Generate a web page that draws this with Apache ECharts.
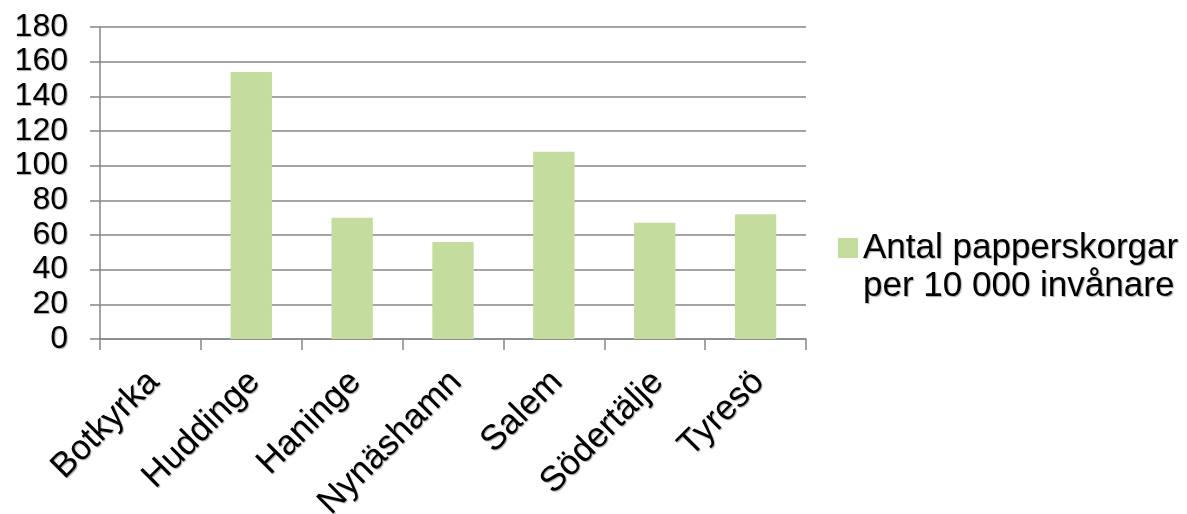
<!DOCTYPE html>
<html>
<head>
<meta charset="utf-8">
<script src="https://cdn.jsdelivr.net/npm/echarts@6/dist/echarts.min.js"></script>
<style>
html,body{margin:0;padding:0;background:#fff;}
#chart{width:1187px;height:514px;}
</style>
</head>
<body>
<div id="chart"></div>
<script>
const categories = ['Botkyrka', 'Huddinge', 'Haninge', 'Nynäshamn', 'Salem', 'Södertälje', 'Tyresö'];
const values = [null, 154, 70, 56, 108, 67, 72];
const seriesName = 'Antal papperskorgar\nper 10 000 invånare';
const yMin = 0, yMax = 180, yInterval = 20;

const FONT = '"Liberation Sans", Arial, sans-serif';
const shadow = { textShadowColor: 'rgba(0,0,0,0.35)', textShadowBlur: 1, textShadowOffsetX: 1, textShadowOffsetY: 1 };
const chart = echarts.init(document.getElementById('chart'));
chart.setOption({
  animation: false,
  backgroundColor: '#ffffff',
  grid: { left: 100, right: 381, top: 27, bottom: 175, containLabel: false, outerBoundsMode: 'none' },
  legend: {
    orient: 'vertical',
    left: 838,
    top: 229,
    padding: 0,
    itemWidth: 20,
    itemHeight: 58,
    itemGap: 0,
    icon: 'path://M0,0L20,0L20,20L0,20Z M0,58',
    data: [seriesName],
    textStyle: Object.assign({ fontFamily: FONT, fontSize: 35, color: '#000', lineHeight: 38 }, shadow)
  },
  xAxis: {
    type: 'category',
    data: categories,
    axisLine: { show: true, lineStyle: { color: '#868686', width: 1.5 } },
    axisTick: { show: true, length: 11, alignWithLabel: false, lineStyle: { color: '#868686', width: 1.5 } },
    axisLabel: Object.assign({ rotate: 45, interval: 0, margin: 16, align: 'right', verticalAlign: 'top', padding: [0, 13, 0, 0], fontFamily: FONT, fontSize: 35, color: '#000', hideOverlap: false }, shadow),
    splitLine: { show: false }
  },
  yAxis: {
    type: 'value',
    min: yMin, max: yMax, interval: yInterval,
    axisLine: { show: true, lineStyle: { color: '#868686', width: 1.5 } },
    axisTick: { show: true, length: 10, lineStyle: { color: '#868686', width: 1.5 } },
    axisLabel: Object.assign({ fontFamily: FONT, fontSize: 32, color: '#000', margin: 32 }, shadow),
    splitLine: { show: true, lineStyle: { color: '#868686', width: 1.5 } }
  },
  series: [{
    name: seriesName,
    type: 'bar',
    data: values,
    barWidth: '41%',
    itemStyle: { color: '#c4dd9f' }
  }]
});
</script>
</body>
</html>
